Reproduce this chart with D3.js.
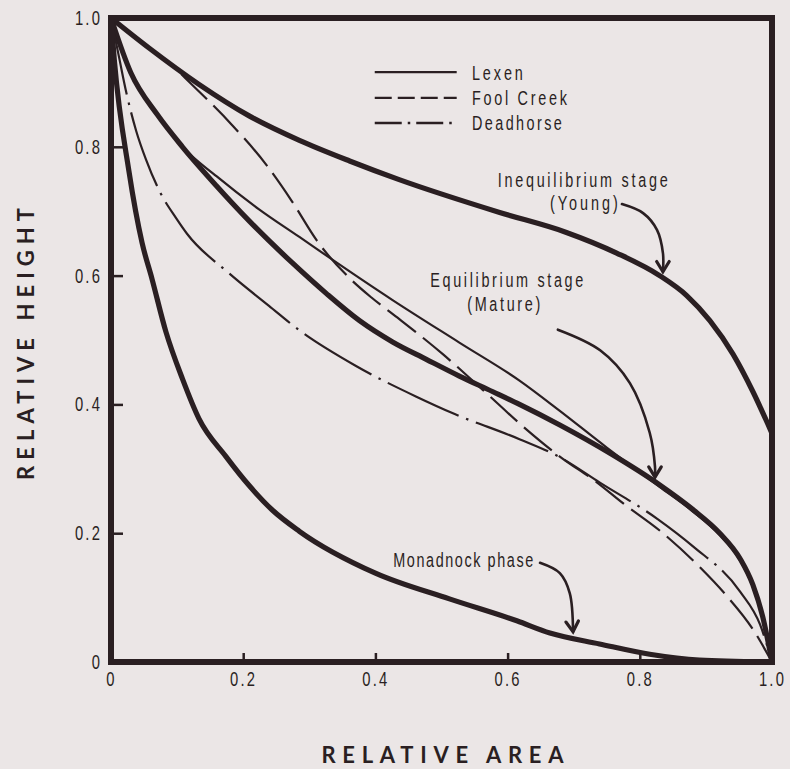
<!DOCTYPE html>
<html><head><meta charset="utf-8">
<script src="https://cdn.jsdelivr.net/npm/d3@7"></script>
<style>html,body{margin:0;padding:0;background:#ebe6e6;}svg{display:block;}</style>
</head><body>
<svg id="chart" width="790" height="769"></svg>
<script>
// ---- data (relative area, relative height) ----
const youngX = [0, 0.058, 0.133, 0.209, 0.285, 0.361, 0.436, 0.588, 0.689, 0.765, 0.830, 0.871, 0.906, 0.941, 0.971, 1.0];
const youngH = [1, 0.953, 0.897, 0.848, 0.810, 0.778, 0.749, 0.698, 0.667, 0.635, 0.600, 0.569, 0.530, 0.478, 0.420, 0.355];

const matureX = [0, 0.03, 0.07, 0.108, 0.159, 0.209, 0.274, 0.326, 0.376, 0.426, 0.477, 0.527, 0.577, 0.618, 0.679, 0.755, 0.830, 0.880, 0.921, 0.952, 0.971, 0.986, 1.0];
const matureH = [1, 0.915, 0.850, 0.800, 0.740, 0.685, 0.620, 0.572, 0.530, 0.497, 0.470, 0.444, 0.420, 0.400, 0.368, 0.324, 0.275, 0.237, 0.200, 0.160, 0.120, 0.070, 0.0];

const monadX = [0, 0.005, 0.027, 0.047, 0.062, 0.083, 0.108, 0.133, 0.174, 0.209, 0.244, 0.285, 0.40, 0.512, 0.614, 0.664, 0.739, 0.815, 0.89, 1.0];
const monadH = [1, 0.935, 0.763, 0.651, 0.595, 0.513, 0.440, 0.378, 0.319, 0.274, 0.236, 0.203, 0.138, 0.098, 0.064, 0.045, 0.028, 0.012, 0.003, 0.0];

const lexenX = [0, 0.03, 0.07, 0.108, 0.16, 0.224, 0.285, 0.326, 0.426, 0.527, 0.618, 0.679, 0.75, 0.83, 0.88, 0.921, 0.952, 0.971, 0.986, 1.0];
const lexenH = [1, 0.915, 0.850, 0.800, 0.754, 0.703, 0.660, 0.631, 0.562, 0.496, 0.437, 0.390, 0.333, 0.272, 0.234, 0.197, 0.157, 0.117, 0.068, 0.0];

const foolX = [0, 0.058, 0.098, 0.118, 0.183, 0.235, 0.274, 0.311, 0.365, 0.394, 0.433, 0.502, 0.562, 0.623, 0.679, 0.735, 0.774, 0.835, 0.891, 0.932, 0.971, 1.0];
const foolH = [1, 0.953, 0.921, 0.901, 0.834, 0.772, 0.715, 0.655, 0.592, 0.566, 0.535, 0.478, 0.423, 0.366, 0.319, 0.279, 0.247, 0.200, 0.147, 0.102, 0.051, 0.0];

const deadX = [0, 0.012, 0.023, 0.038, 0.053, 0.075, 0.098, 0.115, 0.177, 0.239, 0.285, 0.37, 0.462, 0.520, 0.618, 0.679, 0.739, 0.827, 0.880, 0.952, 0.982, 1.0];
const deadH = [1, 0.940, 0.885, 0.825, 0.780, 0.728, 0.690, 0.665, 0.605, 0.553, 0.515, 0.460, 0.412, 0.385, 0.346, 0.318, 0.279, 0.222, 0.180, 0.109, 0.058, 0.0];

const xTicks = [0, 0.2, 0.4, 0.6, 0.8, 1.0];
const xTickLabels = ["0", "0.2", "0.4", "0.6", "0.8", "1.0"];
const yTicks = [0, 0.2, 0.4, 0.6, 0.8, 1.0];
const yTickLabels = ["0", "0.2", "0.4", "0.6", "0.8", "1.0"];

const legendNames = ["Lexen", "Fool Creek", "Deadhorse"];

// annotation arrows (data coordinates)
const youngArrowX = [0.773, 0.805, 0.826, 0.835, 0.835];
const youngArrowH = [0.711, 0.697, 0.671, 0.635, 0.606];
const matureArrowX = [0.676, 0.740, 0.785, 0.815, 0.823, 0.823];
const matureArrowH = [0.516, 0.484, 0.433, 0.356, 0.303, 0.287];
const monadArrowX = [0.649, 0.679, 0.694, 0.699];
const monadArrowH = [0.154, 0.138, 0.107, 0.047];

// ---- layout ----
const W = 790, H = 769;
const mLeft = 111, mRight = 772, mTop = 18, mBottom = 662;
const ink = "#2a1f22";
const bodyFont = "'Liberation Sans',Arial,sans-serif";
const titleFont = "Lato,'Open Sans','DejaVu Sans',sans-serif";
const SX = 0.74; // horizontal squeeze to imitate a condensed face

const x = d3.scaleLinear().domain([0, 1]).range([mLeft, mRight]);
const y = d3.scaleLinear().domain([0, 1]).range([mBottom, mTop]);

const svg = d3.select("#chart");
svg.append("rect").attr("width", W).attr("height", H).attr("fill", "#ebe6e6");

const zip = (xs, hs) => xs.map((v, i) => [v, hs[i]]);
const line = d3.line().x(d => x(d[0])).y(d => y(d[1])).curve(d3.curveMonotoneX);
const smooth = d3.line().x(d => x(d[0])).y(d => y(d[1])).curve(d3.curveCatmullRom.alpha(0.5));

const series = [
  {data: zip(youngX, youngH), w: 5.2, dash: null},
  {data: zip(matureX, matureH), w: 5.2, dash: null},
  {data: zip(monadX, monadH), w: 5.2, dash: null},
  {data: zip(lexenX, lexenH), w: 2.2, dash: null},
  {data: zip(foolX, foolH), w: 2.2, dash: "36,9"},
  {data: zip(deadX, deadH), w: 2.2, dash: "78,8,2.5,8"}
];

svg.append("g").selectAll("path.curve").data(series).join("path")
  .attr("class", "curve")
  .attr("d", d => line(d.data))
  .attr("fill", "none")
  .attr("stroke", ink)
  .attr("stroke-width", d => d.w)
  .attr("stroke-linecap", d => d.dash ? "butt" : "round")
  .attr("stroke-dasharray", d => d.dash);

// axes (inward ticks)
const yAxis = d3.axisLeft(y).tickValues(yTicks).tickFormat((d, i) => yTickLabels[i])
  .tickSize(-12).tickPadding(12);
const yg = svg.append("g").attr("transform", `translate(${mLeft},0)`).call(yAxis);
const xAxis = d3.axisBottom(x).tickValues(xTicks).tickFormat((d, i) => xTickLabels[i])
  .tickSize(-9).tickPadding(10);
const xg = svg.append("g").attr("transform", `translate(0,${mBottom})`).call(xAxis);
[yg, xg].forEach(a => {
  a.select(".domain").remove();
  a.selectAll(".tick line").attr("stroke", ink).attr("stroke-width", 2.5);
  a.selectAll(".tick text").attr("fill", ink).attr("font-family", bodyFont)
    .attr("font-size", 20).attr("letter-spacing", "3px")
    .attr("transform", `scale(${SX},1)`);
});

// frame
svg.append("rect")
  .attr("x", x(0)).attr("y", y(1))
  .attr("width", x(1) - x(0)).attr("height", y(0) - y(1))
  .attr("fill", "none").attr("stroke", ink).attr("stroke-width", 6);

// condensed text helper
function ctext(t, px, py, w, size) {
  svg.append("text").text(t)
    .attr("transform", `translate(${px},${py}) scale(${SX},1)`)
    .attr("font-family", bodyFont).attr("font-size", size).attr("fill", ink)
    .attr("textLength", w / SX).attr("lengthAdjust", "spacing");
}

// legend
const legDash = [null, "17,6", "27,6,2.5,6"];
const legRows = [0.916, 0.876, 0.837];
const legWidths = [51, 95, 90];
legendNames.forEach((name, i) => {
  svg.append("line")
    .attr("x1", x(0.399)).attr("x2", x(0.523))
    .attr("y1", y(legRows[i])).attr("y2", y(legRows[i]))
    .attr("stroke", ink).attr("stroke-width", 2.4)
    .attr("stroke-dasharray", legDash[i]);
  ctext(name, x(0.546), y(legRows[i]) + 7.5, legWidths[i], 19.5);
});

// annotation labels
const labels = [
  {t: "Inequilibrium stage", x: 0.585, h: 0.738, w: 170},
  {t: "(Young)", x: 0.664, h: 0.702, w: 68},
  {t: "Equilibrium stage", x: 0.483, h: 0.582, w: 153},
  {t: "(Mature)", x: 0.539, h: 0.545, w: 73},
  {t: "Monadnock phase", x: 0.427, h: 0.148, w: 140}
];
labels.forEach(d => ctext(d.t, x(d.x), y(d.h), d.w, 19.5));

// arrows
function arrow(xs, hs) {
  const pts = zip(xs, hs);
  svg.append("path").attr("d", smooth(pts)).attr("fill", "none")
    .attr("stroke", ink).attr("stroke-width", 2.6).attr("stroke-linecap", "round");
  const p1 = pts[pts.length - 2], p2 = pts[pts.length - 1];
  const tx = x(p2[0]), ty = y(p2[1]);
  const ang = Math.atan2(ty - y(p1[1]), tx - x(p1[0]));
  const L = 12, a = 0.55;
  const w1 = [tx - L * Math.cos(ang - a), ty - L * Math.sin(ang - a)];
  const w2 = [tx - L * Math.cos(ang + a), ty - L * Math.sin(ang + a)];
  svg.append("path").attr("d", `M${w1[0]},${w1[1]}L${tx},${ty}L${w2[0]},${w2[1]}`)
    .attr("fill", "none").attr("stroke", ink).attr("stroke-width", 3.2)
    .attr("stroke-linejoin", "miter").attr("stroke-linecap", "round");
}
arrow(youngArrowX, youngArrowH);
arrow(matureArrowX, matureArrowH);
arrow(monadArrowX, monadArrowH);

// axis titles
svg.append("text").text("RELATIVE AREA")
  .attr("x", (x(0) + x(1)) / 2 + 1).attr("y", 763)
  .attr("text-anchor", "middle")
  .attr("font-family", titleFont).attr("font-weight", 700).attr("font-size", 22)
  .attr("fill", ink).attr("textLength", 242).attr("lengthAdjust", "spacing");
svg.append("text").text("RELATIVE HEIGHT")
  .attr("transform", `translate(34,${(y(0) + y(1)) / 2 + 4}) rotate(-90)`)
  .attr("text-anchor", "middle")
  .attr("font-family", titleFont).attr("font-weight", 700).attr("font-size", 22)
  .attr("fill", ink).attr("textLength", 272).attr("lengthAdjust", "spacing");
</script>
</body></html>
